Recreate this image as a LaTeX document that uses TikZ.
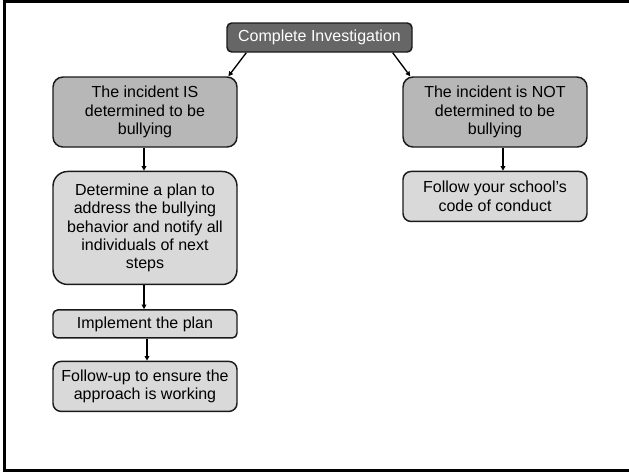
\documentclass[tikz,border=0pt]{standalone}
\usepackage{fontspec}
\setmainfont{Liberation Sans}
\usepackage{tikz}
\usetikzlibrary{arrows.meta, positioning}
\definecolor{headgrey}{RGB}{102,102,102}
\definecolor{midgrey}{RGB}{183,183,183}
\definecolor{lightgrey}{RGB}{217,217,217}
\definecolor{edgegrey}{RGB}{26,26,26}

\begin{document}
\begin{tikzpicture}[
        x=0.75pt, y=-0.75pt,
        node distance=17.25pt,
        base/.style={rectangle, draw=edgegrey, line width=1.1pt, align=center, inner sep=2pt,
                     minimum width=138pt, font=\fontsize{12}{13.8}\selectfont},
        headbox/.style={base, fill=headgrey, text=white, rounded corners=3.5pt,
                        minimum width=138.75pt, minimum height=21.75pt},
        casebox/.style={base, fill=midgrey, rounded corners=7.5pt, minimum height=52.5pt},
        stepbox/.style={base, fill=lightgrey},
        arrow/.style={draw, line width=1pt, -{Triangle[length=3.5pt, width=3.5pt]}}
    ]
        \useasboundingbox (0,0) rectangle (629,472);
        \draw [line width=2.25pt] (4.5,1.5) rectangle (640,470.5);
        \node [headbox] (invest) at (319.5,37.5) {Complete Investigation};
        \node [casebox] (isbully)  at (145,112) {The incident IS\\determined to be\\bullying};
        \node [casebox] (notbully) at (495,112) {The incident is NOT\\determined to be\\bullying};
        \node [stepbox, rounded corners=11pt, minimum height=84.75pt, below=of isbully] (plan)
              {Determine a plan to\\address the bullying\\behavior and notify all\\individuals of next\\steps};
        \node [stepbox, rounded corners=3.5pt, minimum height=21pt, below=18pt of plan] (implement)
              {Implement the plan};
        \node [stepbox, rounded corners=6pt, minimum height=37.5pt, below=16.5pt of implement] (followup)
              {Follow-up to ensure the\\approach is working};
        \node [stepbox, rounded corners=6pt, minimum height=37.5pt, below=of notbully] (conduct)
              {Follow your school’s\\code of conduct};
        \path [arrow] ([xshift=15pt]invest.south west)  -- ([xshift=-7pt]isbully.north east);
        \path [arrow] ([xshift=-15pt]invest.south east) -- ([xshift=6pt]notbully.north west);
        \path [arrow] ([xshift=-0.75pt]isbully.south)   -- ([xshift=-0.75pt]plan.north);
        \path [arrow] ([xshift=-0.75pt]plan.south)      -- ([xshift=-0.75pt]implement.north);
        \path [arrow] ([xshift=1.5pt]implement.south)   -- ([xshift=1.5pt]followup.north);
        \path [arrow] ([xshift=6pt]notbully.south)      -- ([xshift=6pt]conduct.north);
    \end{tikzpicture}
\end{document}
